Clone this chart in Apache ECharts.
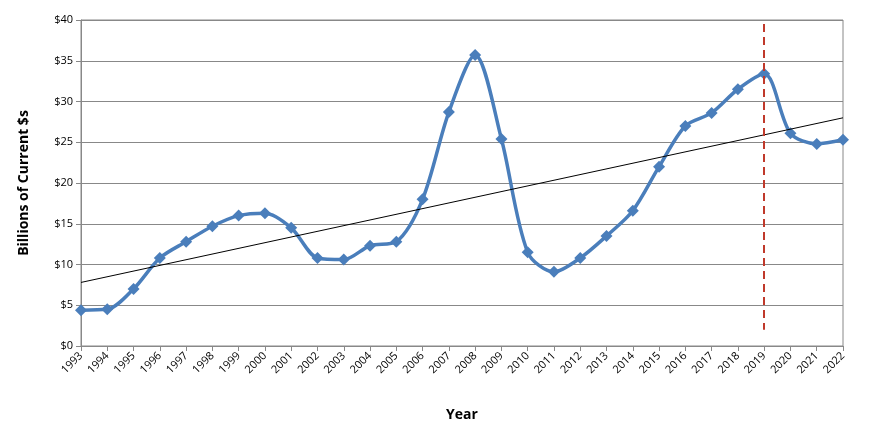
<!DOCTYPE html>
<html>
<head>
<meta charset="utf-8">
<script src="https://cdn.jsdelivr.net/npm/echarts@6/dist/echarts.min.js"></script>
<style>html,body{margin:0;padding:0;background:#fff}#chart{width:870px;height:433px}</style>
</head>
<body>
<div id="chart"></div>
<script>
var years = ['1993','1994','1995','1996','1997','1998','1999','2000','2001','2002','2003','2004','2005','2006','2007',
    '2008','2009','2010','2011','2012','2013','2014','2015','2016','2017','2018','2019','2020','2021','2022'];
var values = [4.4,4.5,7.0,10.8,12.8,14.7,16.0,16.3,14.5,10.8,10.6,12.3,12.8,18.0,28.7,
    35.7,25.4,11.5,9.1,10.8,13.5,16.6,22.0,27.0,28.6,31.5,33.4,26.1,24.8,25.3];
var trendStart = 7.8;
var trendEnd = 28.0;
var markerYear = '2019';

echarts.init(document.getElementById('chart')).setOption({
    animation: false,
    grid: {
        left: 81,
        right: 27,
        top: 20,
        bottom: 87,
        show: true,
        borderColor: '#888',
        borderWidth: 1
    },
    xAxis: {
        type: 'category',
        data: years,
        boundaryGap: false,
        name: 'Year',
        nameLocation: 'middle',
        nameGap: 62,
        nameTextStyle: { fontFamily: 'Open Sans', fontWeight: 'bold', fontSize: 14, color: '#000' },
        axisLine: { lineStyle: { color: '#888' } },
        axisTick: { show: true, alignWithLabel: true, lineStyle: { color: '#888' } },
        axisLabel: { rotate: 45, fontFamily: 'Open Sans', fontSize: 11, color: '#000', interval: 0 }
    },
    yAxis: {
        type: 'value',
        min: 0,
        max: 40,
        interval: 5,
        name: 'Billions of Current $s',
        nameLocation: 'middle',
        nameGap: 50,
        nameTextStyle: { fontFamily: 'Open Sans', fontWeight: 'bold', fontSize: 14, color: '#000' },
        axisLine: { show: true, lineStyle: { color: '#888' } },
        axisTick: { show: true, lineStyle: { color: '#888' } },
        splitLine: { lineStyle: { color: '#888' } },
        axisLabel: {
            fontFamily: 'Open Sans', fontSize: 11, color: '#000',
            formatter: function (v) { return '$' + v; }
        }
    },
    series: [
        {
            type: 'line',
            data: values,
            symbol: 'diamond',
            symbolSize: 12,
            smooth: 0.3,
            itemStyle: { color: '#4a7ebb' },
            lineStyle: { color: '#4a7ebb', width: 3.5 },
            z: 3,
            markLine: {
                silent: true,
                symbol: 'none',
                label: { show: false },
                data: [
                    [
                        { coord: [years[0], trendStart], lineStyle: { color: '#000', width: 1, type: 'solid' } },
                        { coord: [years[years.length - 1], trendEnd] }
                    ],
                    [
                        { coord: [markerYear, 39.5], lineStyle: { color: '#c0392b', width: 2, type: [8, 5] } },
                        { coord: [markerYear, 2] }
                    ]
                ]
            }
        }
    ]
});
</script>
</body>
</html>
